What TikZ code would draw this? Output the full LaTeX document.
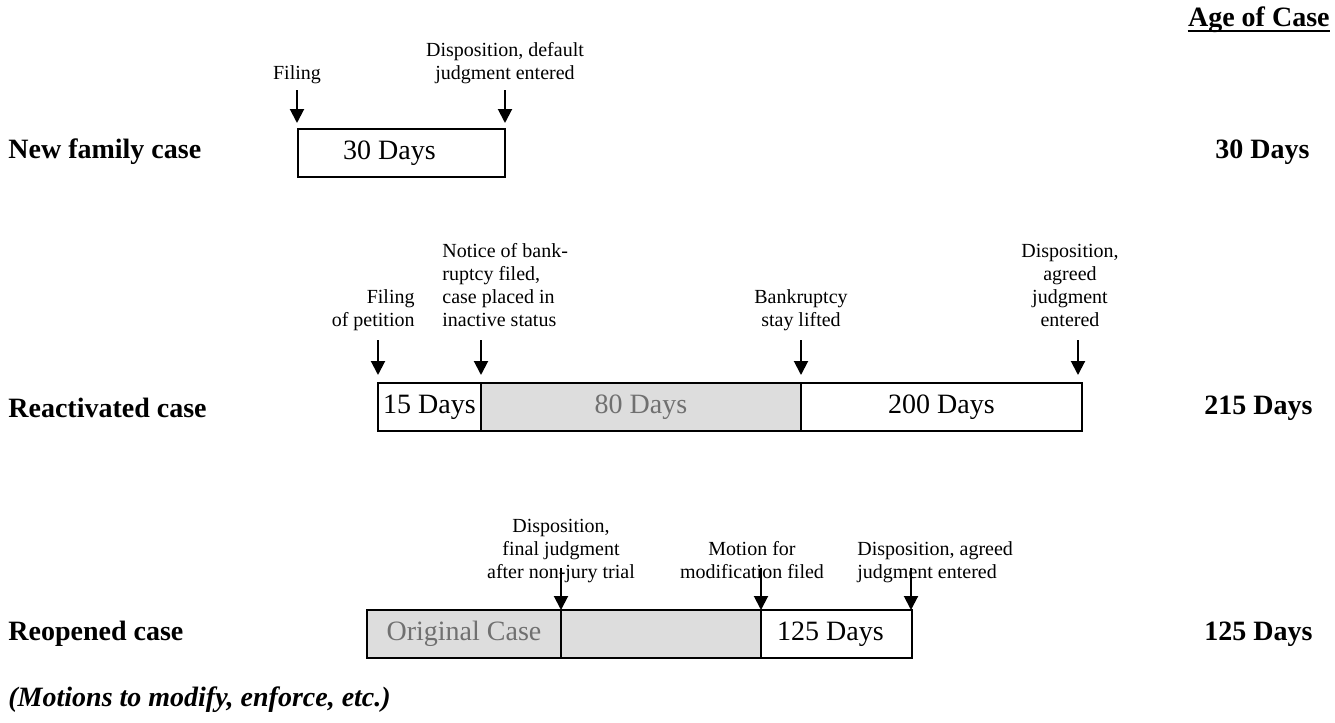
\documentclass[tikz,border=0pt]{standalone}
\usepackage{fontspec}
\setmainfont{Liberation Serif}
\usetikzlibrary{arrows.meta,positioning}
\definecolor{shade}{HTML}{DDDDDD}
\definecolor{fadetext}{HTML}{707070}

\begin{document}
\begin{tikzpicture}[
    x=0.5pt, y=-0.5pt,
    node distance=0pt,
    seg/.style={draw, line width=1pt, outer sep=0pt, inner sep=0pt, minimum height=24pt, font=\fontsize{14}{16}\selectfont},
    gseg/.style={seg, fill=shade, text=fadetext},
    lbl/.style={inner sep=0pt, align=center, anchor=south, font=\fontsize{10}{11.5}\selectfont},
    rowname/.style={anchor=west, inner sep=0pt, font=\fontsize{14}{16}\selectfont\bfseries},
    total/.style={anchor=east, inner sep=0pt, font=\fontsize{14}{16}\selectfont\bfseries},
    arr/.style={-{Triangle[width=7pt,length=7pt]}, line width=1pt},
]
\useasboundingbox (0,0) rectangle (1335,723);

% Header
\node[total] (age) at (1330,20) {Age of Case};
\draw[line width=1.1pt] ([yshift=-2pt]age.base west) -- ([yshift=-2pt]age.base east);

% New family case
\node[rowname] (newcase) at (8,152) {New family case};
\node[seg, minimum width=103.5pt, anchor=north west] (n30) at (298,129) {30 Days\hspace*{12pt}};
\node[total] (tot1) at (1310,152) {30 Days};
\node[lbl] (nfile) at (297,87) {Filing\strut};
\node[lbl] (ndisp) at (505,87) {Disposition, default\\judgment entered\strut};
\coordinate (nfa) at (297,90);
\coordinate (nda) at (505,90);
\draw[arr, shorten >=3pt] (nfa) -- (nfa |- n30.north);
\draw[arr, shorten >=3pt] (nda) -- (nda |- n30.north);

% Reactivated case
\node[rowname] (react) at (8,408) {Reactivated case};
\node[seg, minimum width=51.5pt, anchor=north west] (r15) at (378,383) {15 Days};
\node[gseg, minimum width=160pt, right=of r15] (r80) {80 Days};
\node[seg, minimum width=140.5pt, right=of r80] (r200) {200 Days};
\node[total] (tot2) at (1313,408) {215 Days};
\node[lbl, align=right, anchor=south east] (rfile) at (415,334) {Filing\\of petition\strut};
\node[lbl, align=left, anchor=south west] (rnotice) at (442,334) {Notice of bank-\\ruptcy filed,\\case placed in\\inactive status\strut};
\node[lbl] (rstay) at (801,334) {Bankruptcy\\stay lifted\strut};
\node[lbl] (rdisp) at (1070,334) {Disposition,\\agreed\\judgment\\entered\strut};
\coordinate (rfa) at (378,340);
\coordinate (rna) at (481,340);
\coordinate (rsa) at (801,340);
\coordinate (rda) at (1078,340);
\foreach \c in {rfa,rna,rsa,rda}
  \draw[arr, shorten >=4pt] (\c) -- (\c |- r15.north);

% Reopened case
\node[rowname] (reopen) at (8,634) {Reopened case};
\node[gseg, minimum width=97pt, anchor=north west] (orig) at (367,610) {Original Case};
\node[gseg, minimum width=100pt, right=of orig] (idle) {};
\node[seg, minimum width=75.5pt, right=of idle] (o125) {125 Days\hspace*{6pt}};
\node[total] (tot3) at (1313,634) {125 Days};
\node[lbl] (odisp) at (561,586) {Disposition,\\final judgment\\after non-jury trial\strut};
\node[lbl] (omotion) at (752,586) {Motion for\\modification filed\strut};
\node[lbl, align=left, anchor=south west] (oagreed) at (857,586) {Disposition, agreed\\judgment entered\strut};
\coordinate (oda) at (561,568);
\coordinate (oma) at (761,568);
\coordinate (oaa) at (911,568);
\foreach \c in {oda,oma,oaa}
  \draw[arr] (\c) -- (\c |- orig.north);

% Footnote
\node[rowname, font=\fontsize{14}{16}\selectfont\bfseries\itshape] (motions) at (8,700) {(Motions to modify, enforce, etc.)};
\end{tikzpicture}
\end{document}
